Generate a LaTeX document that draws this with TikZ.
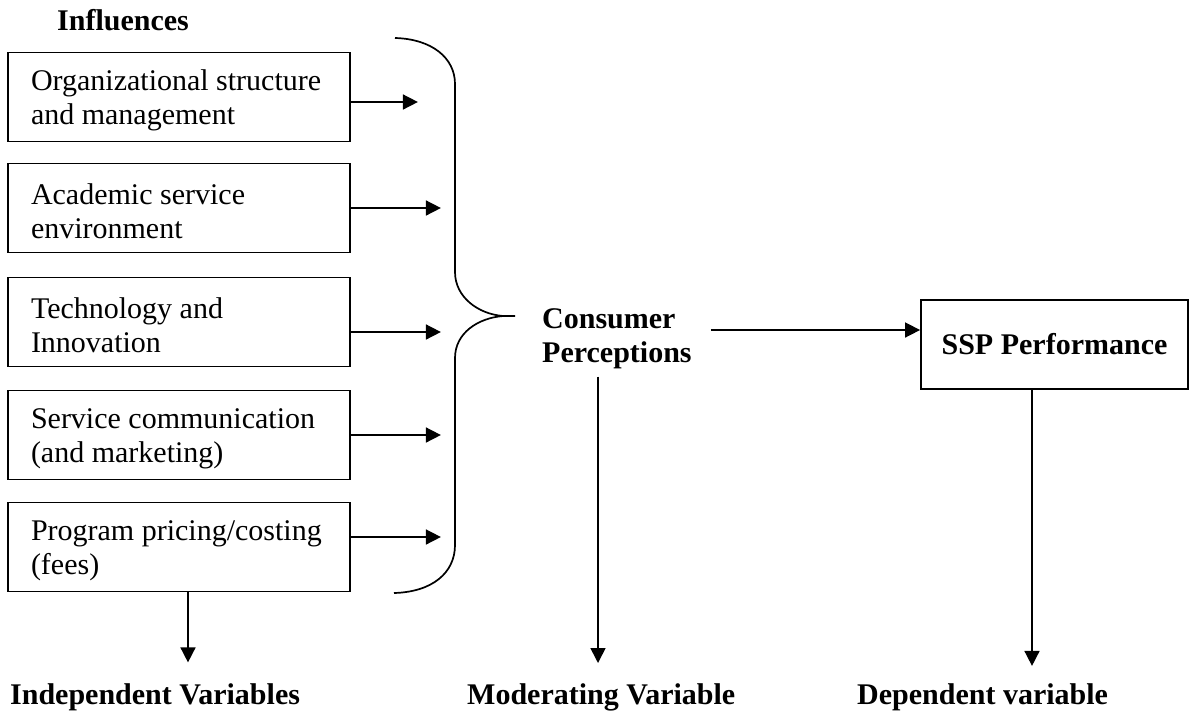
\documentclass[tikz,border=0pt]{standalone}
\usepackage{fontspec}
\setmainfont{Liberation Serif}
\usetikzlibrary{arrows.meta,calc}
\newcommand{\boxtxt}[1]{\parbox{296pt}{\vspace*{7pt}#1}}
\begin{document}
\begin{tikzpicture}[x=1pt,y=-1pt,
  ivbox/.style={draw,line width=1.8pt,minimum width=342pt,minimum height=89pt,
    text width=296pt,inner xsep=23pt,align=flush left,
    font=\fontsize{30}{34}\selectfont},
  lbl/.style={inner sep=0pt,font=\fontsize{30}{34}\selectfont\bfseries,anchor=base west},
  conn/.style={line width=1.6pt,-{Triangle[length=15pt,width=15pt]}}]
\useasboundingbox (0,0) rectangle (1191,713);
\node[lbl] (infl) at (57,30) {Influences};
\node[ivbox] (b1) at (179,97) {\boxtxt{Organizational structure\\and management}};
\node[ivbox] (b2) at (179,208) {\boxtxt{Academic service\\environment}};
\node[ivbox] (b3) at (179,322) {\boxtxt{Technology and\\Innovation}};
\node[ivbox] (b4) at (179,435) {\boxtxt{Service communication\\(and marketing)}};
\node[ivbox] (b5) at (179,547) {\boxtxt{Program pricing/costing\\(fees)}};
% brace
\draw[line width=1.7pt] (395,38) .. controls (432,39) and (455,58) .. (455,84)
  -- (455,272) .. controls (455,297) and (478,314) .. (503,316) -- (515,316)
  -- (503,316) .. controls (478,318) and (455,333) .. (455,358)
  -- (455,545) .. controls (455,573) and (432,592) .. (394,593);
% arrows into brace
\draw[conn] ($(b1.east)+(0,5)$) -- ++(67,0);
\draw[conn] (b2.east) -- ++(90,0);
\draw[conn] ($(b3.east)+(0,10)$) -- ++(90,0);
\draw[conn] (b4.east) -- ++(90,0);
\draw[conn] ($(b5.east)+(0,-10)$) -- ++(90,0);
% consumer perceptions
\node[lbl,align=left] (cp) at (542,362) {Consumer\\Perceptions};
\node[draw,line width=1.8pt,minimum width=267pt,minimum height=89pt,
  font=\fontsize{30}{34}\selectfont\bfseries] (ssp) at (1054.5,344.5) {SSP Performance};
\draw[conn] ($(cp.east |- 0,330)+(19,0)$) -- (ssp.west |- 0,330);
% bottom labels
\node[lbl] (iv) at (10,704) {Independent Variables};
\node[lbl] (mv) at (467,704) {Moderating Variable};
\node[lbl] (dv) at (857,704) {Dependent variable};
\draw[conn] ($(b5.south)+(9,0)$) -- ($(b5.south)+(9,70)$);
\draw[conn] ($(cp.south -| 598,0)+(0,8)$) -- (598,663);
\draw[conn] ($(ssp.south)+(-22.5,0)$) -- ($(ssp.south)+(-22.5,276)$);
\end{tikzpicture}
\end{document}
